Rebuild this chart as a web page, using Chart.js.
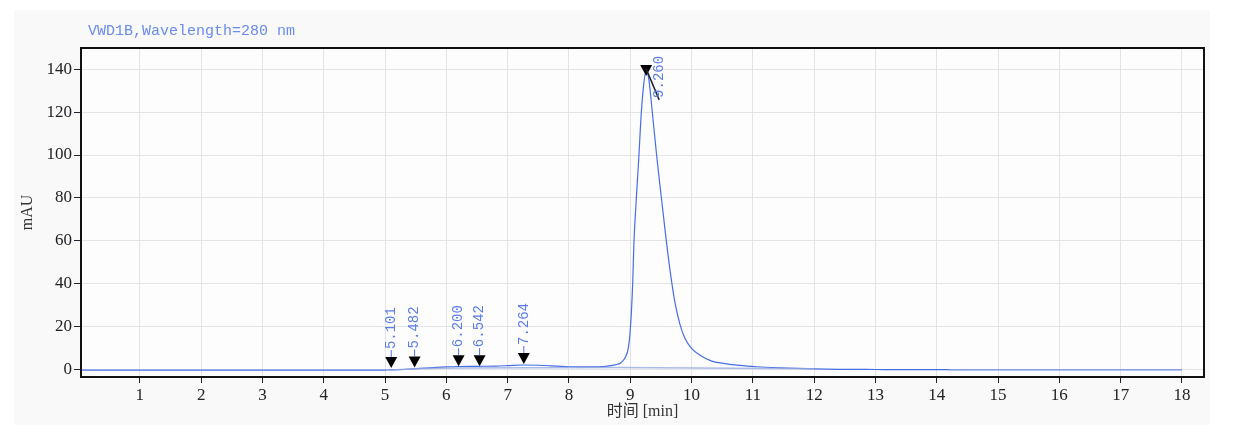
<!DOCTYPE html>
<html>
<head>
<meta charset="utf-8">
<script src="https://cdn.jsdelivr.net/npm/chart.js@4.4.1/dist/chart.umd.min.js"></script>
<style>
  html, body { margin: 0; padding: 0; background: #fff; }
  #wrap { position: relative; width: 1255px; height: 443px; }
</style>
</head>
<body>
<div id="wrap"><canvas id="chrom" width="1255" height="443"></canvas></div>
<script>
// ── Data ──────────────────────────────────────
const signalTime = [0.04, 1, 2, 3, 4, 4.9, 5.0, 5.1, 5.3, 5.5, 5.8, 6.0, 6.2, 6.5, 6.8, 7.0, 7.25, 7.5, 7.8, 8.0, 8.3, 8.6, 8.75, 8.85, 8.92, 8.97, 9.0, 9.04, 9.06, 9.10, 9.14, 9.18, 9.22, 9.26, 9.30, 9.36, 9.43, 9.50, 9.58, 9.65, 9.73, 9.81, 9.89, 10.0, 10.14, 10.33, 10.52, 10.79, 11.06, 11.44, 12.0, 12.4, 13, 14, 15, 16, 17, 18];
const signalMAU  = [-0.5, -0.5, -0.5, -0.5, -0.5, -0.5, -0.45, -0.4, -0.2, 0.2, 0.7, 1.0, 1.2, 1.3, 1.4, 1.6, 1.9, 1.8, 1.4, 1.1, 1.0, 1.3, 2.0, 3.0, 5.5, 10, 18, 40, 59, 80, 99, 119.5, 133, 139.5, 136, 120, 100, 82, 62, 46, 31, 21, 14.5, 9.7, 6.5, 3.7, 2.7, 1.7, 1.1, 0.6, 0.1, -0.1, -0.2, -0.3, -0.3, -0.3, -0.3, -0.3];

const baselineTime = [5.1, 5.5, 6.2, 7.3, 8.8, 12.0, null, 14.2, 18];
const baselineMAU  = [-0.4, 0.2, 0.5, 0.6, 0.7, 0.2, null, -0.3, -0.3];

const peakTimes   = [5.101, 5.482, 6.200, 6.542, 7.264, 9.260];
const peakMarks   = [0.0, 0.3, 0.9, 0.9, 1.9, 136.5];
const peakLabels  = ['5.101', '5.482', '6.200', '6.542', '7.264', '9.260'];

const xTickValues = [1, 2, 3, 4, 5, 6, 7, 8, 9, 10, 11, 12, 13, 14, 15, 16, 17, 18];
const yTickValues = [0, 20, 40, 60, 80, 100, 120, 140];

const chartTitle = 'VWD1B,Wavelength=280 nm';
const xTitle = '时间 [min]';
const yTitle = 'mAU';

const SERIF = "'Liberation Serif', 'DejaVu Serif', 'Noto Sans CJK SC', serif";
const MONO = "'Liberation Mono', 'DejaVu Sans Mono', monospace";

const toPoints = (xs, ys) => xs.map((x, i) => (x === null ? { x: NaN, y: null } : { x, y: ys[i] }));

// ── Drawing extras: panel, frame, titles, peak markers ──
const chromPlugin = {
  id: 'chromExtras',
  beforeDraw(chart) {
    const { ctx, chartArea: a } = chart;
    ctx.save();
    ctx.fillStyle = '#f9f9f9';
    ctx.fillRect(14, 10, 1196, 415);
    ctx.fillStyle = '#fdfdfd';
    ctx.fillRect(a.left, a.top, a.right - a.left, a.bottom - a.top);
    ctx.restore();
  },
  afterDraw(chart) {
    const { ctx, chartArea: a, scales } = chart;
    ctx.save();

    // frame
    ctx.strokeStyle = '#111';
    ctx.lineWidth = 2;
    ctx.strokeRect(a.left, a.top, a.right - a.left, a.bottom - a.top);

    // title
    ctx.fillStyle = 'rgb(105,140,235)';
    ctx.font = '15px ' + MONO;
    ctx.textAlign = 'left';
    ctx.textBaseline = 'alphabetic';
    ctx.fillText(chartTitle, 88, 35);

    // axis titles
    ctx.fillStyle = '#333';
    ctx.font = '16px ' + SERIF;
    ctx.textAlign = 'center';
    ctx.textBaseline = 'middle';
    ctx.fillText(xTitle, (a.left + a.right) / 2, 412);
    ctx.save();
    ctx.translate(28, (a.top + a.bottom) / 2);
    ctx.rotate(-Math.PI / 2);
    ctx.fillText(yTitle, 0, 0);
    ctx.restore();

    // peak markers
    ctx.font = '14px ' + MONO;
    peakTimes.forEach((t, i) => {
      const xp = scales.x.getPixelForValue(t);
      const tip = scales.y.getPixelForValue(peakMarks[i]) - 1;
      const top = tip - 11;

      ctx.fillStyle = '#000';
      ctx.beginPath();
      ctx.moveTo(xp - 6, top);
      ctx.lineTo(xp + 6, top);
      ctx.lineTo(xp, tip);
      ctx.closePath();
      ctx.fill();

      const textW = ctx.measureText(peakLabels[i]).width;
      let lx = xp, ly = top - 8;
      ctx.strokeStyle = 'rgb(80,115,230)';
      ctx.lineWidth = 1;
      ctx.beginPath();
      if (ly - textW < a.top) {
        // no room above: push the label down and right with a leader
        lx = xp + 13;
        ly = tip + 22;
        ctx.strokeStyle = '#223';
        ctx.lineWidth = 1.5;
        ctx.moveTo(xp, top + 4);
        ctx.lineTo(lx, ly + 2);
      } else {
        ctx.moveTo(xp, top);
        ctx.lineTo(xp, ly + 1);
      }
      ctx.stroke();

      ctx.save();
      ctx.translate(lx, ly);
      ctx.rotate(-Math.PI / 2);
      ctx.fillStyle = 'rgb(90,125,232)';
      ctx.textAlign = 'left';
      ctx.textBaseline = 'middle';
      ctx.fillText(peakLabels[i], 0, 0);
      ctx.restore();
    });

    ctx.restore();
  }
};

// ── Chart ─────────────────────────────────────
const chart = new Chart(document.getElementById('chrom'), {
  type: 'line',
  data: {
    datasets: [
      {
        label: 'baseline',
        data: toPoints(baselineTime, baselineMAU),
        borderColor: 'rgba(150,170,225,0.8)',
        borderWidth: 1.5,
        pointRadius: 0,
        tension: 0,
        spanGaps: false
      },
      {
        label: 'signal',
        data: toPoints(signalTime, signalMAU),
        borderColor: 'rgb(70,110,228)',
        borderWidth: 1.2,
        pointRadius: 0,
        tension: 0.35,
        cubicInterpolationMode: 'monotone'
      }
    ]
  },
  options: {
    responsive: false,
    animation: false,
    layout: { padding: { left: 0, top: 48, right: 51, bottom: 0 } },
    plugins: { legend: { display: false }, tooltip: { enabled: false } },
    scales: {
      x: {
        type: 'linear',
        min: 0.04,
        max: 18.36,
        afterFit: s => { s.height = 66; },
        afterBuildTicks: s => { s.ticks = xTickValues.map(v => ({ value: v })); },
        grid: { color: '#e4e4e4', tickColor: '#223', tickLength: 6, lineWidth: 1 },
        border: { display: false },
        ticks: { color: '#222', padding: 2, font: { family: SERIF, size: 17 }, maxRotation: 0, autoSkip: false }
      },
      y: {
        type: 'linear',
        min: -3.7,
        max: 150,
        afterFit: s => { s.width = 81; },
        afterBuildTicks: s => { s.ticks = yTickValues.map(v => ({ value: v })); },
        grid: { color: '#e4e4e4', tickColor: '#223', tickLength: 7, lineWidth: 1 },
        border: { display: false },
        ticks: { color: '#222', padding: 2, font: { family: SERIF, size: 17 }, autoSkip: false }
      }
    }
  },
  plugins: [chromPlugin]
});
</script>
</body>
</html>
